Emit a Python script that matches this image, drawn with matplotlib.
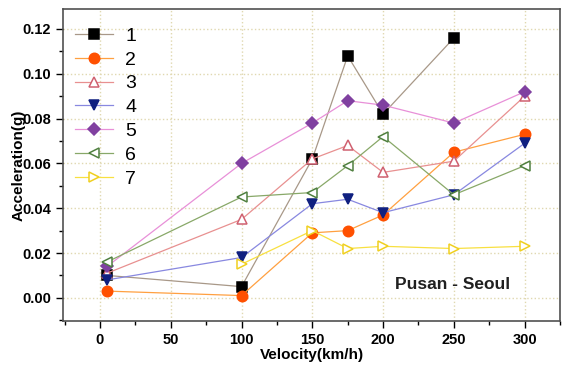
import numpy as np
import matplotlib
matplotlib.use('Agg')
import matplotlib.pyplot as plt
from matplotlib.ticker import MultipleLocator

# ---------- data ----------
vel = [5, 100, 150, 175, 200, 250, 300]
s1 = [0.010, 0.005, 0.062, 0.108, 0.082, 0.116]
s2 = [0.003, 0.001, 0.029, 0.030, 0.037, 0.065, 0.073]
s3 = [0.011, 0.035, 0.062, 0.068, 0.056, 0.061, 0.090]
s4 = [0.008, 0.018, 0.042, 0.044, 0.038, 0.046, 0.069]
s5 = [0.014, 0.060, 0.078, 0.088, 0.086, 0.078, 0.092]
s6 = [0.016, 0.045, 0.047, 0.059, 0.072, 0.046, 0.059]
vel7 = [100, 150, 175, 200, 250, 300]
s7 = [0.015, 0.030, 0.022, 0.023, 0.022, 0.023]
labels = ['1', '2', '3', '4', '5', '6', '7']

plt.rcParams['font.family'] = ['Liberation Sans', 'DejaVu Sans']
plt.rcParams['font.weight'] = 'bold'

fig = plt.figure(figsize=(5.64, 3.68), dpi=100)
ax = fig.add_axes([0.112, 0.128, 0.881, 0.848])

# (x, y, line colour, marker, face colour, edge colour)
series = [
    (vel[:6], s1, '#a89888', 's', 'black', 'black'),
    (vel, s2, '#ffa040', 'o', '#ff5000', '#ff5000'),
    (vel, s3, '#e89090', '^', 'white', '#d06070'),
    (vel, s4, '#8888e0', 'v', '#102080', '#102080'),
    (vel, s5, '#e890d8', 'D', '#8040a0', '#8040a0'),
    (vel, s6, '#88a868', '<', 'white', '#508040'),
    (vel7, s7, '#f8e040', '>', 'white', '#f0d020'),
]
for (x, y, lc, mk, fc, ec), lab in zip(series, labels):
    ms = 6 if mk == 'D' else 7.5
    if mk == 's':
        ms = 7
    ax.plot(x, y, color=lc, lw=0.9, marker=mk, markersize=ms,
            markerfacecolor=fc, markeredgecolor=ec, markeredgewidth=1.1,
            label=lab)

ax.set_xlim(-26, 325)
ax.set_ylim(-0.0103, 0.129)
ax.xaxis.set_major_locator(MultipleLocator(50))
ax.xaxis.set_minor_locator(MultipleLocator(25))
ax.yaxis.set_major_locator(MultipleLocator(0.02))
ax.yaxis.set_minor_locator(MultipleLocator(0.01))
ax.yaxis.set_major_formatter(matplotlib.ticker.FormatStrFormatter('%.2f'))
ax.tick_params(which='major', direction='out', length=5, width=1, labelsize=10.5)
ax.tick_params(which='minor', direction='out', length=3, width=1)
ax.grid(True, which='major', color='#e0d8b0', linestyle=':', lw=1)
for sp in ax.spines.values():
    sp.set_color('#505050')
    sp.set_linewidth(1.2)

ax.set_xlabel('Velocity(km/h)', fontsize=11, fontweight='bold', labelpad=1)
ax.set_ylabel('Acceleration(g)', fontsize=11, fontweight='bold', labelpad=-2)

ax.text(249, 0.0058, 'Pusan - Seoul', fontsize=12.5, fontweight='bold',
        ha='center', va='center', color='#202020')

ax.legend(loc='upper left', bbox_to_anchor=(-0.024, 1.016), frameon=False,
          handlelength=2.0, handletextpad=0.6,
          labelspacing=0.32, borderaxespad=0.8,
          prop={'weight': 'normal', 'size': 14})

fig.savefig('out.png', dpi=100)
